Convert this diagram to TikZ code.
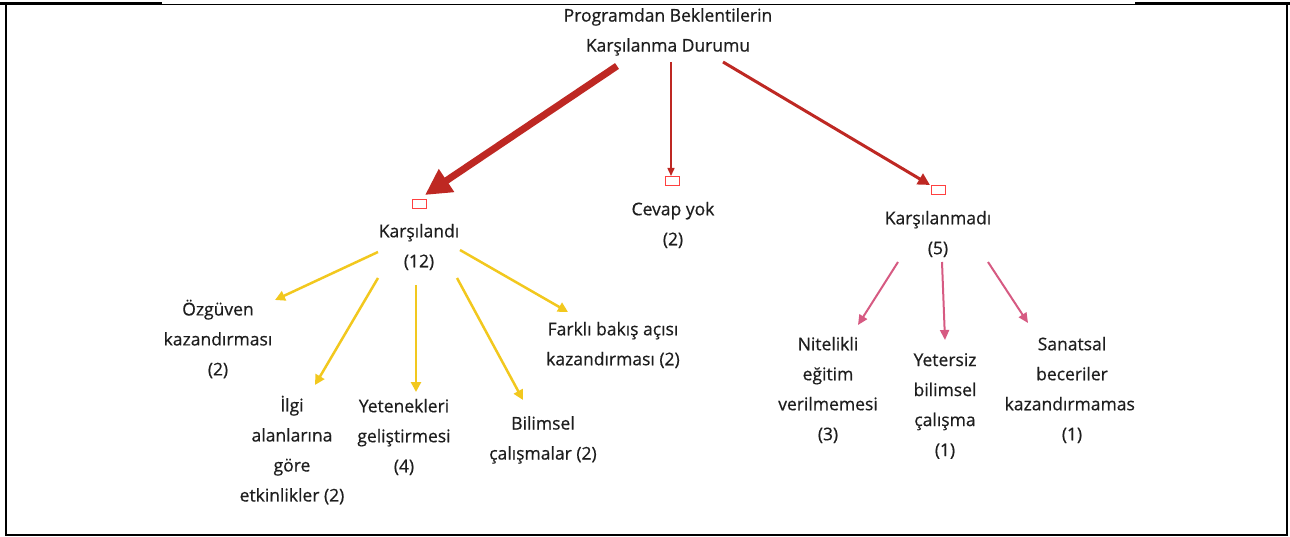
\documentclass[tikz,border=0pt]{standalone}
\usepackage{fontspec}
\setmainfont{Open Sans}[FakeBold=0.6]
\usetikzlibrary{arrows.meta,calc}
\definecolor{darkred}{RGB}{190,40,35}
\definecolor{gold}{RGB}{242,200,30}
\definecolor{rose}{RGB}{214,90,130}
\definecolor{txt}{RGB}{30,30,30}

\begin{document}
\begin{tikzpicture}[x=1pt,y=-1pt,
  every node/.style={font=\fontsize{17.5}{30}\selectfont, text=txt, align=center, inner sep=0pt},
  iconbox/.style={draw=red!75, line width=0.8pt, minimum width=14pt, minimum height=9pt, inner sep=0pt},
  bigarrow/.style={darkred, line width=7pt, -{Triangle[length=26pt,width=26pt]}},
  redarrow/.style={darkred, line width=1.5pt, -{Triangle[length=8pt,width=7pt]}},
  midarrow/.style={darkred, line width=3pt, -{Triangle[length=12pt,width=12pt]}},
  yarrow/.style={gold, line width=2.5pt, -{Triangle[length=10pt,width=10pt]}},
  parrow/.style={rose, line width=2pt, -{Triangle[length=10pt,width=9pt]}}
]
\useasboundingbox (0,0) rectangle (1290,537);
% Frame of the screenshot
\draw[line width=1.2pt] (6,4) -- (6,535) -- (1287,535) -- (1287,4);
\draw[line width=0.8pt] (162,4) -- (1135,4);
\draw[line width=3pt] (0,4) -- (162,4);
\draw[line width=3pt] (1135,4) -- (1290,4);

\begin{scope}
\clip (162,6) rectangle (1134,533);
% Root
\node (title) at (668,32) {Programdan Beklentilerin\\Karşılanma Durumu};
% Icon boxes
\node[iconbox] (boxL) at (419,204) {};
\node[iconbox] (boxM) at (672,181) {};
\node[iconbox] (boxR) at (938,190) {};
% Second level
\node (karsi) at (419,247) {Karşılandı\\(12)};
\node (cevap) at (673,225) {Cevap yok\\(2)};
\node (karsiz) at (938,234) {Karşılanmadı\\(5)};
% Leaves of Karşılandı
\node (ozg) at (218,339) {Özgüven\\kazandırması\\(2)};
\node (ilgi) at (292,450) {İlgi\\alanlarına\\göre\\etkinlikler (2)};
\node (yet) at (404,437) {Yetenekleri\\geliştirmesi\\(4)};
\node (bil) at (543,440) {Bilimsel\\çalışmalar (2)};
\node (fark) at (613,345) {Farklı bakış açısı\\kazandırması (2)};
% Leaves of Karşılanmadı
\node (nit) at (828,390) {Nitelikli\\eğitim\\verilmemesi\\(3)};
\node (yets) at (945,406) {Yetersiz\\bilimsel\\çalışma\\(1)};
\node (san) at (1072,390) {Sanatsal\\beceriler\\kazandırmaması\\(1)};

% Root arrows
\draw[bigarrow] ([shift={(-51,34)}]title.center) -- ([shift={(6,-9)}]boxL.center);
\draw[redarrow] ([shift={(3,30)}]title.center) -- ([shift={(-1,-5)}]boxM.center);
\draw[midarrow] ([shift={(55,30)}]title.center) -- ([shift={(-8,-5)}]boxR.center);
% Yellow arrows
\draw[yarrow] ([shift={(-41,5)}]karsi.center) -- ([shift={(57,-39)}]ozg.center);
\draw[yarrow] ([shift={(-41,31)}]karsi.center) -- ([shift={(23,-65)}]ilgi.center);
\draw[yarrow] ([shift={(-3,38)}]karsi.center) -- ([shift={(12,-45)}]yet.center);
\draw[yarrow] ([shift={(38,31)}]karsi.center) -- ([shift={(-20,-40)}]bil.center);
\draw[yarrow] ([shift={(41,3)}]karsi.center) -- ([shift={(-45,-33)}]fark.center);
% Pink arrows
\draw[parrow] ([shift={(-40,28)}]karsiz.center) -- ([shift={(30,-65)}]nit.center);
\draw[parrow] ([shift={(4,28)}]karsiz.center) -- ([shift={(0,-66)}]yets.center);
\draw[parrow] ([shift={(50,28)}]karsiz.center) -- ([shift={(-44,-67)}]san.center);
\end{scope}
\end{tikzpicture}
\end{document}
